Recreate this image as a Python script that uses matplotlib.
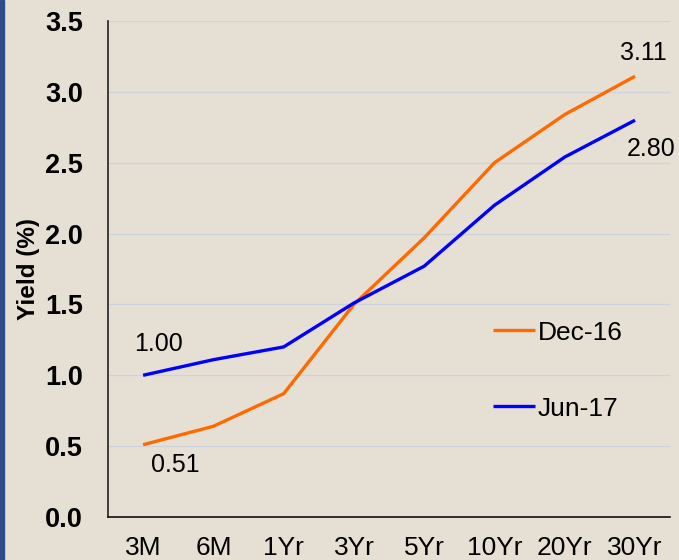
import numpy as np
import matplotlib
matplotlib.use("Agg")
import matplotlib.pyplot as plt
from matplotlib.patches import Rectangle

plt.rcParams['font.family'] = ['Liberation Sans', 'DejaVu Sans']

tenors = ["3M", "6M", "1Yr", "3Yr", "5Yr", "10Yr", "20Yr", "30Yr"]
dec16 = [0.51, 0.64, 0.87, 1.50, 1.97, 2.50, 2.84, 3.11]
jun17 = [1.00, 1.11, 1.20, 1.51, 1.77, 2.20, 2.54, 2.80]
yticks = [0.0, 0.5, 1.0, 1.5, 2.0, 2.5, 3.0, 3.5]

bg = '#E6DFD4'
fig = plt.figure(figsize=(6.79, 5.60), dpi=100, facecolor=bg)
ax = fig.add_axes([0.159, 0.0768, 0.828, 0.8857])
ax.set_facecolor(bg)

# dark blue strip at the left edge
fig.patches.append(Rectangle((0, 0), 0.006, 1, transform=fig.transFigure,
                             color='#2E4C8A', zorder=0))

x = np.arange(len(tenors)) + 0.5
ax.plot(x, dec16, color='#FF6A00', lw=2.4, label='Dec-16', solid_capstyle='butt')
ax.plot(x, jun17, color='#0000FF', lw=2.4, label='Jun-17', solid_capstyle='butt')

ax.set_xlim(0, len(tenors))
ax.set_ylim(0, 3.5)
ax.set_xticks(x)
ax.set_xticklabels(tenors, fontsize=19)
ax.set_yticks(yticks)
ax.set_yticklabels(["%.1f" % v for v in yticks], fontsize=19.5, fontweight='bold')
ax.tick_params(length=0)
ax.tick_params(axis='x', pad=14)
ax.tick_params(axis='y', pad=18)
ax.yaxis.grid(True, color='#CDD3DD', lw=0.9)
ax.set_axisbelow(True)
for s in ['top', 'right']:
    ax.spines[s].set_visible(False)
ax.spines['left'].set_color('#222222')
ax.spines['bottom'].set_color('#111111')
ax.spines['left'].set_linewidth(1.2)
ax.spines['bottom'].set_linewidth(1.2)

ax.set_ylabel("Yield (%)", fontsize=17.5, fontweight='bold')
ax.yaxis.set_label_coords(-0.121, 0.5)

ax.annotate("%.2f" % dec16[-1], (x[-1], dec16[-1]), xytext=(6, 8),
            textcoords='offset points', ha='center', va='bottom', fontsize=18)
ax.annotate("%.2f" % jun17[-1], (x[-1], jun17[-1]), xytext=(11.5, -12),
            textcoords='offset points', ha='center', va='top', fontsize=18)
ax.annotate("%.2f" % jun17[0], (x[0], jun17[0]), xytext=(11, 14),
            textcoords='offset points', ha='center', va='bottom', fontsize=18)
ax.annotate("%.2f" % dec16[0], (x[0], dec16[0]), xytext=(23, -6),
            textcoords='offset points', ha='center', va='top', fontsize=18)

ax.legend(loc='upper left', bbox_to_anchor=(0.685, 0.396), frameon=False,
          fontsize=19, handlelength=1.6, handletextpad=0.1, labelspacing=1.97,
          borderpad=0, borderaxespad=0)

fig.savefig("out.png", dpi=100, facecolor=bg)
